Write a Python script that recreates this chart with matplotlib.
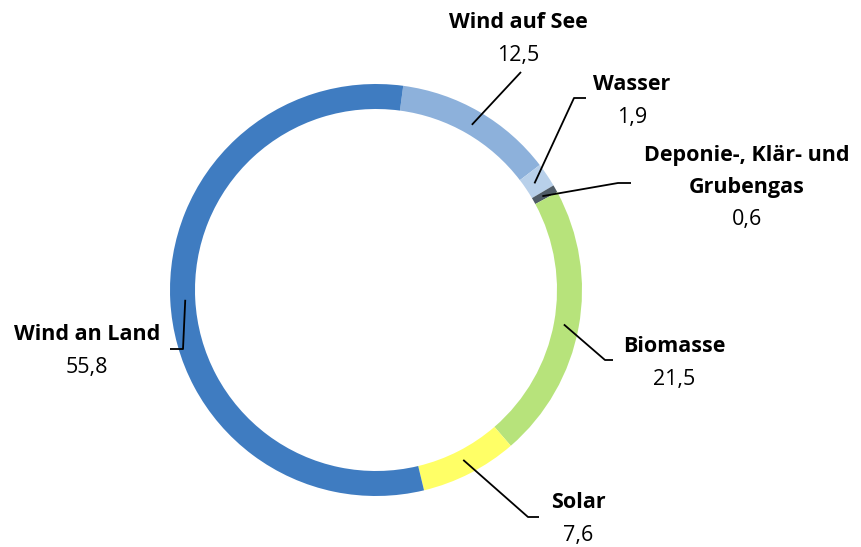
import numpy as np
import matplotlib.pyplot as plt

labels = ["Wind auf See", "Wasser", "Deponie-, Klär- und\nGrubengas", "Biomasse", "Solar", "Wind an Land"]
values = [12.5, 1.9, 0.6, 21.5, 7.6, 55.8]
value_text = ["12,5", "1,9", "0,6", "21,5", "7,6", "55,8"]
colors = ["#8db1db", "#b8d0ea", "#4f5b66", "#b7e37b", "#ffff66", "#3f7cc1"]

W, H = 861, 547
fig = plt.figure(figsize=(W / 100, H / 100), dpi=100)
ax = fig.add_axes([0, 0, 1, 1])

cx, cy, R = 376, H - 290, 206
start = 82.4
wedges, _ = ax.pie(values, colors=colors, startangle=start, counterclock=False,
                   center=(cx, cy), radius=R, frame=True,
                   wedgeprops=dict(width=25, linewidth=0))
ax.set_xlim(0, W)
ax.set_ylim(0, H)
ax.set_aspect('equal')
ax.axis('off')

# label layout (pixel coords, y from top): text x, first line y, elbow, end of line
layout = [
    dict(tx=518, ty=22, elbow=None, end=(521, 72)),
    dict(tx=632, ty=84, elbow=(574, 98), end=(586, 98)),
    dict(tx=747, ty=155, elbow=(618, 183), end=(631, 183)),
    dict(tx=674, ty=347, elbow=(605, 360), end=(613, 360)),
    dict(tx=578, ty=502, elbow=(528, 517), end=(539, 517)),
    dict(tx=87, ty=335, elbow=(183, 349), end=(170, 349)),
]

font = ['Open Sans', 'DejaVu Sans']
total = sum(values)
acc = 0
for w, lab, vt, lo in zip(values, labels, value_text, layout):
    mid = start - 360 * (acc + w / 2) / total
    acc += w
    a = np.deg2rad(mid)
    px, py = cx + 191 * np.cos(a), cy + 191 * np.sin(a)
    pts = [(px, py)]
    if lo['elbow'] is not None:
        pts.append((lo['elbow'][0], H - lo['elbow'][1]))
    pts.append((lo['end'][0], H - lo['end'][1]))
    xs, ys = zip(*pts)
    ax.plot(xs, ys, color='black', lw=1.3, solid_capstyle='butt', zorder=5)
    lines = lab.split("\n")
    y = lo['ty']
    for ln in lines:
        ax.text(lo['tx'], H - y, ln, ha='center', va='center', fontsize=15.5,
                fontweight='bold', family=font, color='black')
        y += 32
    ax.text(lo['tx'], H - y - 1, vt, ha='center', va='center', fontsize=15.5,
            family=font, color='black')

fig.savefig('out.png', dpi=100, facecolor='white')
